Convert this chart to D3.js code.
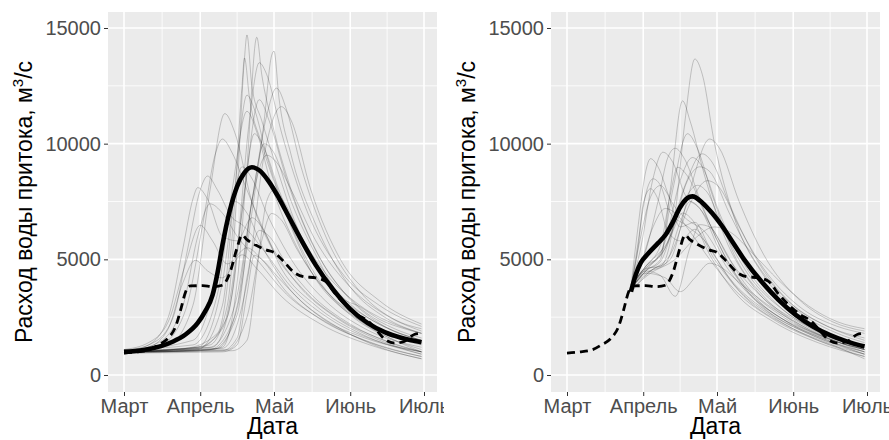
<!DOCTYPE html>
<html>
<head>
<meta charset="utf-8">
<script src="https://cdn.jsdelivr.net/npm/d3@7"></script>
<style>
  body { margin: 0; background: #fff; }
  svg text { font-family: "Liberation Sans", Arial, sans-serif; }
</style>
</head>
<body>
<svg id="chart" width="889" height="440"></svg>
<script>
// month tick labels and y ticks
const monthNames = ["Март", "Апрель", "Май", "Июнь", "Июль"];
const yTicks = [0, 5000, 10000, 15000];
const yMinor = [2500, 7500, 12500];

// every series: [day after 1 March, discharge m3/s]
const leftYears = [
  [[0,1000],[20,1100],[35,1300],[42,3000],[46,8000],[49,13700],[50,14700],[52,12500],[56,11000],[62,9000],[70,6500],[80,4500],[95,2800],[110,1900],[121,1500]],
  [[0,950],[30,1050],[40,1200],[46,4000],[50,9000],[54,14600],[56,13000],[60,11000],[68,8000],[80,5000],[95,3000],[110,2000],[121,1600]],
  [[0,1000],[35,1100],[45,2500],[52,7000],[57,11000],[60,13800],[61,14000],[63,12000],[68,9500],[78,6500],[92,3800],[106,2500],[121,1800]],
  [[0,1050],[30,1200],[40,2000],[46,5500],[51,11000],[55,13500],[58,13000],[64,10500],[74,7200],[88,4500],[104,3000],[121,2100]],
  [[0,1000],[25,1150],[38,1800],[44,6000],[48,12500],[49,13700],[51,12000],[56,10000],[64,7500],[76,4500],[92,2600],[108,1600],[121,1100]],
  [[0,1050],[35,1200],[45,3000],[52,7500],[58,11200],[62,12400],[66,11500],[72,9000],[82,6000],[96,3600],[110,2400],[121,2000]],
  [[0,950],[30,1100],[40,3000],[45,8000],[50,12100],[53,11500],[58,9500],[66,7000],[78,4300],[94,2500],[110,1500],[121,1000]],
  [[0,1000],[30,1150],[42,2500],[48,7000],[55,11900],[59,11000],[66,8500],[76,5800],[90,3500],[106,2100],[121,1500]],
  [[0,1100],[28,1300],[38,3500],[44,8000],[50,11400],[54,10500],[60,8200],[70,5600],[84,3400],[100,2100],[121,1300]],
  [[0,1000],[18,1300],[28,3000],[35,8000],[41,11300],[45,10500],[52,7500],[60,5500],[72,3800],[88,2400],[106,1500],[121,1000]],
  [[0,1000],[15,1300],[25,2800],[32,6500],[37,9500],[40,10200],[44,9600],[50,8000],[58,6000],[70,4000],[86,2500],[104,1500],[121,900]],
  [[0,1050],[12,1400],[20,2500],[26,5500],[31,8000],[34,8600],[38,8000],[44,6800],[48,6500],[56,5500],[68,3800],[84,2400],[102,1500],[121,1000]],
  [[0,1000],[10,1300],[18,2500],[24,5500],[28,7600],[30,8100],[34,7600],[40,6000],[46,5800],[52,6800],[56,6400],[64,4600],[78,3000],[96,1800],[121,900]],
  [[0,1000],[14,1400],[24,3000],[30,6000],[35,7400],[40,7000],[46,6000],[54,5000],[66,3500],[82,2300],[100,1400],[121,800]],
  [[0,1100],[10,1400],[18,2300],[25,4800],[31,6470],[36,5800],[42,4800],[50,5500],[56,5000],[66,3600],[80,2400],[98,1500],[121,800]],
  [[0,1000],[10,1200],[18,2000],[24,4000],[29,4960],[34,4500],[40,4200],[48,5200],[54,4600],[64,3400],[80,2200],[100,1300],[121,700]],
  [[0,950],[40,1000],[46,1300],[50,3500],[53,5170],[56,5000],[62,4300],[72,3200],[88,2000],[104,1200],[121,700]],
  [[0,1000],[42,1100],[50,2500],[56,5800],[60,6980],[64,6700],[70,5500],[80,3900],[94,2600],[108,1800],[121,1400]],
  [[0,1000],[36,1200],[44,3500],[49,8000],[53,10430],[57,9800],[63,8000],[72,5800],[86,3600],[102,2300],[121,1500]],
  [[0,1050],[38,1150],[46,3000],[52,7500],[58,9500],[62,9200],[68,8000],[78,5800],[92,3800],[108,2500],[121,1900]],
  [[0,1000],[30,1200],[40,4000],[45,7800],[48,9000],[52,8500],[58,7000],[68,5000],[82,3200],[98,2000],[121,1200]],
  [[0,1000],[40,1050],[46,1600],[50,4200],[55,6250],[59,6000],[66,4800],[76,3500],[92,2200],[108,1400],[121,1000]],
  [[0,1000],[44,1050],[50,1500],[54,4500],[58,7500],[61,8000],[65,7500],[72,6000],[82,4400],[96,3000],[110,2200],[121,1800]],
  [[0,1050],[28,1500],[36,3500],[41,6200],[45,7500],[50,7000],[56,5600],[66,3900],[80,2500],[98,1600],[121,1000]],
  [[0,1000],[36,1100],[46,2600],[52,7500],[57,10000],[61,9600],[68,7500],[78,5200],[88,3400],[96,2950],[104,2400],[114,2000],[121,1800]],
  [[0,1000],[40,1150],[50,4000],[57,9500],[64,11600],[68,11000],[76,8000],[88,5000],[104,3200],[121,2200]]
];

const leftMean = [[0,1000],[8,1080],[15,1250],[20,1450],[25,1750],[30,2250],[33,2750],[36,3450],[38,4400],[40,5600],[43,7100],[46,8150],[49,8750],[52,8980],[55,8850],[59,8350],[63,7650],[67,6850],[72,5850],[78,4750],[85,3700],[92,2850],[99,2250],[106,1850],[113,1600],[121,1420]];

const rightYears = [
  [[26,3800],[32,4600],[38,4700],[44,7000],[48,11000],[52,13660],[55,13000],[60,10000],[68,6800],[80,4300],[96,2600],[110,1800],[121,1400]],
  [[26,3700],[32,4500],[38,5000],[42,8000],[47,11850],[50,11000],[56,8600],[64,6000],[76,3800],[92,2300],[108,1500],[121,1100]],
  [[26,3800],[32,4700],[38,5200],[43,8000],[49,10430],[53,9800],[59,7800],[68,5200],[80,3400],[96,2100],[121,1100]],
  [[27,3700],[34,4500],[42,5000],[50,8000],[58,10200],[62,9800],[70,7500],[80,5200],[94,3300],[108,2300],[121,1900]],
  [[26,3900],[32,4600],[40,5500],[48,8200],[55,9560],[59,9200],[66,7400],[76,5200],[90,3200],[106,2100],[121,1600]],
  [[26,3800],[32,4500],[40,5800],[46,8400],[51,9400],[55,9000],[62,7000],[72,4800],[86,3000],[102,1900],[121,1200]],
  [[26,3800],[29,6500],[32,8800],[34,9350],[37,9000],[42,7600],[48,6800],[56,6200],[66,4500],[80,2900],[98,1800],[121,1000]],
  [[26,3800],[30,5500],[35,8500],[39,9630],[43,9200],[48,7800],[54,7200],[62,5800],[72,4000],[88,2500],[106,1600],[121,1000]],
  [[26,3700],[29,5800],[32,7800],[35,8480],[38,8200],[42,7000],[48,6500],[56,5800],[66,4200],[82,2700],[100,1700],[121,900]],
  [[26,3800],[30,6000],[34,7700],[38,8190],[41,7800],[46,6400],[52,6600],[58,5500],[68,3900],[84,2500],[102,1500],[121,800]],
  [[26,3700],[29,5600],[31,7400],[34,8050],[37,7600],[41,6200],[46,5800],[52,6300],[60,5000],[72,3400],[90,2100],[108,1300],[121,700]],
  [[26,3800],[32,4700],[38,5600],[42,7800],[45,8980],[49,8600],[56,7000],[66,4800],[80,3000],[98,1900],[121,1100]],
  [[27,3900],[34,4500],[42,5200],[50,7400],[57,8400],[62,8100],[70,6400],[80,4600],[94,3000],[110,2100],[121,1800]],
  [[26,3800],[32,4400],[40,4800],[46,6600],[50,7500],[54,7200],[62,5400],[72,3800],[88,2400],[106,1500],[121,1000]],
  [[26,3700],[32,4500],[38,4900],[43,6200],[47,7000],[51,6700],[58,5200],[68,3600],[84,2300],[102,1400],[121,800]],
  [[26,3700],[32,4400],[40,4200],[46,3600],[52,4200],[58,4830],[62,4700],[70,4000],[82,3000],[98,2000],[114,1300],[121,1100]],
  [[26,3800],[32,4500],[38,4300],[44,3400],[50,5500],[54,6500],[58,6400],[66,5000],[78,3500],[94,2300],[110,1500],[121,1200]],
  [[26,3900],[33,4800],[42,6000],[49,8400],[54,9000],[58,8800],[66,7000],[76,5000],[90,3200],[106,2100],[121,1500]],
  [[26,3800],[32,4600],[40,5500],[47,7400],[53,8200],[57,7900],[64,6200],[74,4300],[88,2800],[104,1800],[121,1100]],
  [[27,3800],[34,4400],[44,5000],[52,5900],[60,6400],[66,6200],[76,5200],[86,4100],[98,3000],[110,2300],[121,2000]],
  [[26,3800],[31,5000],[37,7500],[41,9400],[44,9800],[48,9300],[54,7600],[62,5600],[72,3800],[88,2400],[106,1500],[121,900]],
  [[26,3700],[30,4800],[35,6400],[40,7200],[44,7000],[50,6200],[58,5000],[68,3700],[84,2400],[102,1500],[121,900]]
];

const rightMean = [[26,3600],[28,4350],[30,4850],[33,5250],[37,5700],[40,6050],[43,6600],[46,7250],[49,7650],[51,7720],[55,7450],[59,7000],[63,6450],[67,5800],[72,5000],[79,4050],[86,3250],[93,2600],[100,2100],[107,1720],[114,1440],[121,1230]];

const observed = [[0,950],[5,1000],[10,1080],[14,1300],[18,1600],[21,2100],[23,2800],[25,3580],[27,3850],[32,3860],[36,3820],[40,3880],[43,4400],[46,5500],[48,6050],[50,5850],[53,5650],[58,5400],[61,5300],[65,4900],[69,4450],[73,4250],[78,4200],[82,4050],[86,3500],[90,3050],[95,2600],[99,2350],[103,1900],[106,1550],[110,1380],[114,1450],[118,1750],[121,1800]];

const svg = d3.select("#chart");
const start = new Date(2019, 2, 1);
const day = n => d3.timeDay.offset(start, n);
const monthDates = monthNames.map((m, i) => new Date(2019, 2 + i, 1));

const panel = { left: 108, right: 437, top: 12, bottom: 392 };
const x = d3.scaleTime().domain([monthDates[0], monthDates[4]]).range([124, 424]);
const y = d3.scaleLinear().domain([0, 15000]).range([375, 28]);

const minorX = d3.pairs(monthDates).map(([a, b]) => new Date((+a + +b) / 2));

const line = d3.line()
    .x(d => x(day(d[0])))
    .y(d => y(d[1]))
    .curve(d3.curveMonotoneX);

svg.append("defs").append("clipPath").attr("id", "leftClip")
  .append("rect").attr("x", 0).attr("y", 0).attr("width", 444).attr("height", 440);

function drawPanel(g, years, mean) {
  g.append("rect")
      .attr("x", panel.left).attr("y", panel.top)
      .attr("width", panel.right - panel.left).attr("height", panel.bottom - panel.top)
      .attr("fill", "#ebebeb");

  // minor grid
  g.selectAll(".minor-y").data(yMinor).enter().append("line")
      .attr("x1", panel.left).attr("x2", panel.right)
      .attr("y1", d => y(d)).attr("y2", d => y(d))
      .attr("stroke", "#fff").attr("stroke-width", 0.8);
  g.selectAll(".minor-x").data(minorX).enter().append("line")
      .attr("y1", panel.top).attr("y2", panel.bottom)
      .attr("x1", d => x(d)).attr("x2", d => x(d))
      .attr("stroke", "#fff").attr("stroke-width", 0.8);
  // major grid
  g.selectAll(".major-y").data(yTicks).enter().append("line")
      .attr("x1", panel.left).attr("x2", panel.right)
      .attr("y1", d => y(d)).attr("y2", d => y(d))
      .attr("stroke", "#fff").attr("stroke-width", 1.6);
  g.selectAll(".major-x").data(monthDates).enter().append("line")
      .attr("y1", panel.top).attr("y2", panel.bottom)
      .attr("x1", d => x(d)).attr("x2", d => x(d))
      .attr("stroke", "#fff").attr("stroke-width", 1.6);

  g.selectAll(".year").data(years).enter().append("path")
      .attr("d", line)
      .attr("fill", "none")
      .attr("stroke", "#000")
      .attr("stroke-opacity", 0.22)
      .attr("stroke-width", 0.9);

  g.append("path").datum(observed)
      .attr("d", line)
      .attr("fill", "none")
      .attr("stroke", "#000")
      .attr("stroke-width", 2.8)
      .attr("stroke-dasharray", "8,5");

  g.append("path").datum(mean)
      .attr("d", line)
      .attr("fill", "none")
      .attr("stroke", "#000")
      .attr("stroke-width", 4.6)
      .attr("stroke-linejoin", "round");

  const yAxis = g.append("g")
      .attr("transform", `translate(${panel.left},0)`)
      .call(d3.axisLeft(y).tickValues(yTicks).tickFormat(d3.format("d")).tickSize(4).tickPadding(3));
  const xAxis = g.append("g")
      .attr("transform", `translate(0,${panel.bottom})`)
      .call(d3.axisBottom(x).tickValues(monthDates).tickFormat((d, i) => monthNames[i]).tickSize(4).tickPadding(3));
  [yAxis, xAxis].forEach(a => {
    a.select(".domain").remove();
    a.selectAll(".tick line").attr("stroke", "#333").attr("stroke-width", 1);
    a.selectAll(".tick text")
        .attr("fill", "#4d4d4d")
        .style("font-size", "20px")
        .style("font-family", "'Liberation Sans', Arial, sans-serif");
  });

  g.append("text")
      .attr("x", (panel.left + panel.right) / 2)
      .attr("y", 434)
      .attr("text-anchor", "middle")
      .style("font-size", "23px")
      .text("Дата");

  const yt = g.append("text")
      .attr("transform", `translate(32,${(panel.top + panel.bottom) / 2}) rotate(-90)`)
      .attr("text-anchor", "middle")
      .style("font-size", "23px");
  yt.append("tspan").text("Расход воды притока, м");
  yt.append("tspan").attr("dy", -9).style("font-size", "15px").text("3");
  yt.append("tspan").attr("dy", 9).text("/с");
}

drawPanel(svg.append("g").attr("clip-path", "url(#leftClip)"), leftYears, leftMean);
drawPanel(svg.append("g").attr("transform", "translate(443,0)"), rightYears, rightMean);
</script>
</body>
</html>
